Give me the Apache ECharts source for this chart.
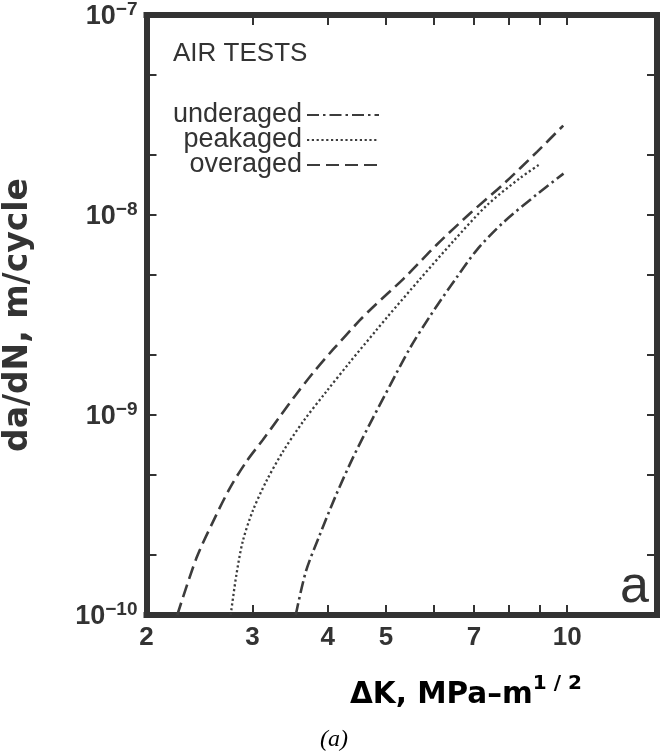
<!DOCTYPE html>
<html>
<head>
<meta charset="utf-8">
<script src="https://cdn.jsdelivr.net/npm/echarts@6/dist/echarts.min.js"></script>
<style>html,body{margin:0;padding:0;background:#fff;}#c{width:668px;height:756px;}</style>
</head>
<body>
<div id="c"></div>
<script>
// ---- data (ΔK in MPa·m^1/2, da/dN in m/cycle) ----
var underaged = [
  [3.54,1.0e-10],[3.68,1.65e-10],[3.88,2.51e-10],[4.13,3.98e-10],[4.40,6.07e-10],
  [4.75,9.6e-10],[5.08,1.41e-9],[5.48,2.16e-9],[5.92,3.13e-9],[6.56,4.9e-9],
  [7.08,6.7e-9],[7.84,9.2e-9],[8.91,1.27e-8],[9.86,1.61e-8]
];
var peakaged = [
  [2.76,1.0e-10],[2.82,1.58e-10],[2.89,2.33e-10],[3.00,3.29e-10],[3.16,4.64e-10],
  [3.37,6.55e-10],[3.64,9.26e-10],[3.98,1.31e-9],[4.35,1.83e-9],[4.81,2.64e-9],
  [5.02,3.08e-9],[5.70,4.8e-9],[6.47,7.4e-9],[7.36,1.12e-8],[8.35,1.53e-8],[9.02,1.8e-8]
];
var overaged = [
  [2.25,1.0e-10],[2.42,1.92e-10],[2.58,2.93e-10],[2.75,4.3e-10],[2.93,5.84e-10],
  [3.12,7.5e-10],[3.33,9.8e-10],[3.54,1.26e-9],[3.78,1.62e-9],[4.08,2.12e-9],
  [4.52,2.97e-9],[4.76,3.47e-9],[5.35,4.81e-9],[6.07,7.1e-9],[6.90,1.02e-8],
  [7.84,1.43e-8],[8.91,2.07e-8],[9.85,2.8e-8]
];
var seriesNames = ['underaged','peakaged','overaged'];
var xTickLabels = [2,3,4,5,7,10];
var xTickMarks = [3,4,5,6,7,8,9,10];
var yTickExponents = [-10,-9,-8,-7];
var yTickMarks = [2e-10,5e-10,1e-9,2e-9,5e-9,1e-8,2e-8,5e-8];
var xRange = [2, 14.1];
var yRange = [1e-10, 1e-7];

var INK = '#333333';
var LINE = '#3c3c3c';
var FONT = 'Liberation Sans';
var WIDE = 'DejaVu Sans';

var yLabelValues = yTickExponents.map(function(e){ return Math.pow(10, e); });
function supMinus(e){ return '\u2212' + Math.abs(e); }

function xAxisBase(pos, showLabel){
  return {
    type:'log', logBase:10, min:xRange[0], max:xRange[1], position:pos,
    axisLine:{show:true, onZero:false, lineStyle:{color:INK, width:6, cap:'square'}},
    axisTick:{show:true, inside:true, length:10, customValues:xTickMarks, lineStyle:{color:INK, width:2}},
    minorTick:{show:false}, splitLine:{show:false},
    axisLabel:{show:showLabel, customValues:xTickLabels, margin:10,
      color:INK, fontFamily:FONT, fontSize:26, fontWeight:'bold'}
  };
}
function yAxisBase(pos, showLabel){
  return {
    type:'log', logBase:10, min:yRange[0], max:yRange[1], position:pos,
    axisLine:{show:true, onZero:false, lineStyle:{color:INK, width:6, cap:'square'}},
    axisTick:{show:true, inside:true, length:10, customValues:yTickMarks, lineStyle:{color:INK, width:2}},
    minorTick:{show:false}, splitLine:{show:false},
    axisLabel:{show:showLabel, customValues:yLabelValues, margin:9,
      formatter:function(v){
        var e = Math.round(Math.log(v)/Math.LN10);
        return '{b|10}{s|' + supMinus(e) + '}';
      },
      rich:{
        b:{fontFamily:FONT, fontSize:27, fontWeight:'bold', color:INK, lineHeight:30, verticalAlign:'bottom'},
        s:{fontFamily:FONT, fontSize:19, fontWeight:'bold', color:INK, lineHeight:30, verticalAlign:'top'}
      }
    }
  };
}

var styles = {
  underaged:{type:[12,4,2.5,4], width:2.6},
  peakaged:{type:[2.2,2.6], width:2.3},
  overaged:{type:[13,6], width:2.6}
};
var dataMap = {underaged:underaged, peakaged:peakaged, overaged:overaged};

var series = seriesNames.map(function(n){
  return {
    name:n, type:'line', data:dataMap[n], symbol:'none', showSymbol:false,
    smooth:0.3, xAxisIndex:0, yAxisIndex:0,
    lineStyle:{color:LINE, width:styles[n].width, type:styles[n].type, cap:'butt'},
    itemStyle:{color:LINE}, z:3
  };
});

var legendTops = [101,126,151];
var legends = seriesNames.map(function(n,i){
  return {
    data:[n], orient:'vertical', align:'right', right:288, top:legendTops[i],
    itemWidth:72, itemHeight:14, padding:0, selectedMode:false,
    itemStyle:{color:'rgba(0,0,0,0)', borderColor:'rgba(0,0,0,0)', borderWidth:0},
    textStyle:{fontFamily:FONT, fontSize:27, color:INK, lineHeight:28}
  };
});

var chart = echarts.init(document.getElementById('c'), null, {renderer:'canvas'});
chart.setOption({
  animation:false,
  backgroundColor:'#ffffff',
  grid:{left:146.5, right:11, top:15, bottom:141, containLabel:false, outerBoundsMode:'none'},
  legend:legends,
  xAxis:[xAxisBase('bottom', true), xAxisBase('top', false)],
  yAxis:[
    Object.assign(yAxisBase('left', true), {
      name:'da/dN, m/cycle', nameLocation:'middle', nameRotate:90, nameGap:112,
      nameTextStyle:{fontFamily:WIDE, fontSize:33, fontWeight:'bold', color:INK}
    }),
    yAxisBase('right', false)
  ],
  graphic:[
    {type:'text', left:173, top:41, style:{text:'AIR TESTS', fontFamily:FONT, fontSize:26, fill:INK}},
    {type:'text', left:620, top:562, style:{text:'a', fontFamily:FONT, fontSize:52, fill:INK}},
    {type:'text', left:350, top:674, style:{text:'{a|\u0394K, MPa\u2013m}{s|1 / 2}',
      rich:{a:{fontFamily:WIDE, fontSize:29.5, fontWeight:'bold', color:INK, lineHeight:36, verticalAlign:'bottom'},
            s:{fontFamily:WIDE, fontSize:20, fontWeight:'bold', color:INK, lineHeight:36, verticalAlign:'top'}}}},
    {type:'text', left:320, top:728, style:{text:'(a)', fontFamily:'Liberation Serif', fontSize:24, fontStyle:'italic', fill:'#000'}}
  ],
  series:series
});
</script>
</body>
</html>
